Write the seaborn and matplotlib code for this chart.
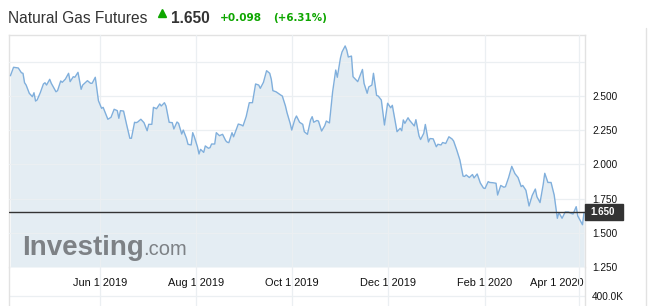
import pandas as pd
import matplotlib
matplotlib.use("Agg")
import matplotlib.pyplot as plt
import matplotlib.transforms as mtransforms
from matplotlib.patches import Rectangle
from matplotlib.lines import Line2D
import seaborn as sns

# ---------------- data ----------------
dates = [
    "2019-04-05", "2019-04-07", "2019-04-10", "2019-04-12", "2019-04-13", "2019-04-14", "2019-04-15",
    "2019-04-17", "2019-04-19", "2019-04-20", "2019-04-21", "2019-04-22", "2019-04-24", "2019-04-26",
    "2019-04-27", "2019-04-28", "2019-04-30",
    "2019-05-01", "2019-05-04", "2019-05-05", "2019-05-07", "2019-05-08", "2019-05-10", "2019-05-12",
    "2019-05-13", "2019-05-15", "2019-05-16", "2019-05-18", "2019-05-20", "2019-05-21", "2019-05-24",
    "2019-05-26", "2019-05-27", "2019-05-29", "2019-05-31",
    "2019-06-02", "2019-06-03", "2019-06-06", "2019-06-08", "2019-06-10", "2019-06-12", "2019-06-13",
    "2019-06-14", "2019-06-16", "2019-06-18", "2019-06-20", "2019-06-21", "2019-06-23", "2019-06-24",
    "2019-06-25", "2019-06-27", "2019-06-29",
    "2019-07-01", "2019-07-02", "2019-07-04", "2019-07-05", "2019-07-07", "2019-07-09", "2019-07-10",
    "2019-07-12", "2019-07-13", "2019-07-15", "2019-07-17", "2019-07-18", "2019-07-20", "2019-07-21",
    "2019-07-23", "2019-07-24", "2019-07-26", "2019-07-27", "2019-07-29", "2019-07-30", "2019-07-31",
    "2019-08-02", "2019-08-03", "2019-08-04", "2019-08-06", "2019-08-07", "2019-08-09", "2019-08-10",
    "2019-08-11", "2019-08-13", "2019-08-14", "2019-08-16", "2019-08-18", "2019-08-20", "2019-08-21",
    "2019-08-22", "2019-08-24", "2019-08-25", "2019-08-28", "2019-08-30", "2019-08-31",
    "2019-09-02", "2019-09-04", "2019-09-06", "2019-09-08", "2019-09-10", "2019-09-11", "2019-09-13",
    "2019-09-15", "2019-09-17", "2019-09-18", "2019-09-19", "2019-09-21", "2019-09-24", "2019-09-25",
    "2019-09-27", "2019-09-28", "2019-09-30",
    "2019-10-01", "2019-10-03", "2019-10-04", "2019-10-06", "2019-10-08", "2019-10-09", "2019-10-11",
    "2019-10-13", "2019-10-14", "2019-10-15", "2019-10-17", "2019-10-18", "2019-10-20", "2019-10-22",
    "2019-10-23", "2019-10-25", "2019-10-27", "2019-10-29", "2019-10-30",
    "2019-11-01", "2019-11-02", "2019-11-04", "2019-11-05", "2019-11-06", "2019-11-08", "2019-11-09",
    "2019-11-12", "2019-11-15", "2019-11-16", "2019-11-18", "2019-11-19", "2019-11-21", "2019-11-22",
    "2019-11-24", "2019-11-25", "2019-11-27", "2019-11-29",
    "2019-12-01", "2019-12-03", "2019-12-04", "2019-12-07", "2019-12-09", "2019-12-10", "2019-12-11",
    "2019-12-12", "2019-12-14", "2019-12-15", "2019-12-17", "2019-12-18", "2019-12-19", "2019-12-21",
    "2019-12-22", "2019-12-24", "2019-12-25", "2019-12-27", "2019-12-28", "2019-12-30",
    "2020-01-01", "2020-01-02", "2020-01-04", "2020-01-05", "2020-01-07", "2020-01-09", "2020-01-11",
    "2020-01-12", "2020-01-14", "2020-01-16", "2020-01-18", "2020-01-19", "2020-01-20", "2020-01-22",
    "2020-01-24", "2020-01-25", "2020-01-27", "2020-01-29", "2020-01-31",
    "2020-02-01", "2020-02-03", "2020-02-04", "2020-02-06", "2020-02-08", "2020-02-09", "2020-02-11",
    "2020-02-13", "2020-02-14", "2020-02-16", "2020-02-18", "2020-02-20", "2020-02-22", "2020-02-24",
    "2020-02-25", "2020-02-27", "2020-02-29",
    "2020-03-02", "2020-03-04", "2020-03-05", "2020-03-07", "2020-03-09", "2020-03-10", "2020-03-12",
    "2020-03-14", "2020-03-16", "2020-03-18", "2020-03-19", "2020-03-21", "2020-03-23", "2020-03-25",
    "2020-03-27", "2020-03-28", "2020-03-30", "2020-03-31",
    "2020-04-03", "2020-04-04",
]
prices = [
    2.648, 2.710, 2.705, 2.670, 2.666, 2.597, 2.580,
    2.520, 2.495, 2.524, 2.463, 2.471, 2.524, 2.588,
    2.597, 2.580, 2.622,
    2.593, 2.531, 2.539, 2.610, 2.600, 2.624, 2.666,
    2.605, 2.641, 2.637, 2.673, 2.549, 2.580, 2.612,
    2.593, 2.593, 2.637, 2.466,
    2.410, 2.417, 2.330, 2.344, 2.403, 2.393, 2.337,
    2.393, 2.390, 2.288, 2.191, 2.191, 2.308, 2.305,
    2.310, 2.330, 2.305,
    2.246, 2.293, 2.293, 2.417, 2.407, 2.442, 2.427,
    2.451, 2.427, 2.308, 2.305, 2.259, 2.310, 2.300,
    2.222, 2.251, 2.191, 2.147, 2.142, 2.232, 2.202,
    2.129, 2.076, 2.110, 2.088, 2.135, 2.118, 2.122,
    2.149, 2.149, 2.232, 2.210, 2.220, 2.173, 2.162,
    2.159, 2.232, 2.202, 2.295, 2.288, 2.281,
    2.349, 2.451, 2.451, 2.588, 2.580, 2.556, 2.600,
    2.685, 2.666, 2.622, 2.539, 2.531, 2.507, 2.500,
    2.427, 2.378, 2.300,
    2.251, 2.330, 2.354, 2.308, 2.293, 2.239, 2.220,
    2.325, 2.349, 2.308, 2.321, 2.317, 2.244, 2.283,
    2.317, 2.303, 2.529, 2.690, 2.637,
    2.778, 2.822, 2.866, 2.836, 2.785, 2.792, 2.641,
    2.605, 2.694, 2.593, 2.520, 2.566, 2.580, 2.666,
    2.504, 2.500, 2.471, 2.288,
    2.447, 2.414, 2.432, 2.239, 2.264, 2.246, 2.325,
    2.300, 2.341, 2.322, 2.295, 2.281, 2.327, 2.208,
    2.182, 2.227, 2.292, 2.164, 2.189, 2.187,
    2.129, 2.147, 2.142, 2.160, 2.153, 2.202, 2.186,
    2.171, 2.105, 2.032, 1.915, 1.912, 1.923, 1.904,
    1.926, 1.901, 1.930, 1.864, 1.827,
    1.824, 1.874, 1.868, 1.866, 1.862, 1.776, 1.846,
    1.833, 1.837, 1.904, 1.986, 1.933, 1.904, 1.838,
    1.846, 1.811, 1.696,
    1.773, 1.820, 1.764, 1.721, 1.853, 1.935, 1.868,
    1.868, 1.776, 1.606, 1.648, 1.606, 1.652, 1.652,
    1.641, 1.637, 1.691, 1.623,
    1.559, 1.650,
]

date_ticks = ["2019-06-01", "2019-08-01", "2019-10-01", "2019-12-01", "2020-02-01", "2020-04-01"]
date_tick_labels = ["Jun 1 2019", "Aug 1 2019", "Oct 1 2019", "Dec 1 2019", "Feb 1 2020", "Apr 1 2020"]
price_ticks = [1.25, 1.50, 1.75, 2.00, 2.25, 2.50, 2.75]
price_tick_labels = ["1.250", "1.500", "1.750", "2.000", "2.250", "2.500", ""]
volume_ticks = [400000]
volume_tick_labels = ["400.0K"]

title = "Natural Gas Futures"
last_price = 1.650
last_price_label = "1.650"
change_abs = "+0.098"
change_pct = "(+6.31%)"

# ---------------- style ----------------
LINE = "#80afdc"
FILL = "#e4edf3"
GRID = "#ebeff2"
BORDER = "#e2e2e2"
GREEN = "#0ea600"
DARK = "#333333"

W, H = 654, 306
sns.set_theme(style="white")
plt.rcParams["font.family"] = ["Liberation Sans", "DejaVu Sans"]

fig = plt.figure(figsize=(W / 100, H / 100), dpi=100)
fig.patch.set_facecolor("white")


def px_rect(x0, y0, x1, y1):
    return [x0 / W, 1 - y1 / H, (x1 - x0) / W, (y1 - y0) / H]


ax = fig.add_axes(px_rect(9, 35, 585, 267))
ax2 = fig.add_axes(px_rect(9, 267, 585, 306), sharex=ax)

df = pd.DataFrame({"date": pd.to_datetime(dates), "price": prices})

ymin, ymax = 1.25, 2.946
ax.fill_between(df["date"], df["price"], ymin, color=FILL, lw=0, zorder=1)
sns.lineplot(data=df, x="date", y="price", ax=ax, color=LINE, lw=1.0, zorder=4)

ax.set_xlim(pd.Timestamp("2019-06-01") - pd.Timedelta(days=57.9),
            pd.Timestamp("2020-04-01") + pd.Timedelta(days=3.6))
ax.set_ylim(ymin, ymax)
ax.set_xlabel("")
ax.set_ylabel("")
ax.set_axisbelow(False)

ax.set_yticks(price_ticks)
ax.set_yticklabels(price_tick_labels)
ax.yaxis.tick_right()
ax.tick_params(axis="y", length=0, pad=5, labelsize=7.2, labelcolor="#111111")

ax.set_xticks(pd.to_datetime(date_ticks))
ax.set_xticklabels(date_tick_labels)
ax.tick_params(axis="x", length=0, pad=8, labelsize=7.9, labelcolor="#111111")
last_lbl = ax.get_xticklabels()[-1]
last_lbl.set_ha("right")
last_lbl.set_transform(last_lbl.get_transform() +
                       mtransforms.ScaledTranslation(4 / 100, 0, fig.dpi_scale_trans))

ax.grid(True, color=GRID, lw=0.9, zorder=2)
for s in ["top", "left", "right"]:
    ax.spines[s].set_color(BORDER)
    ax.spines[s].set_linewidth(1.0)
ax.spines["bottom"].set_visible(False)
ax.set_facecolor("white")

# last price line and tag
ax.axhline(last_price, color=DARK, lw=1.0, zorder=5)
blend = mtransforms.blended_transform_factory(ax.transAxes, ax.transData)
unit = (ymax - ymin) / 232.0
ax.add_patch(Rectangle((1.0, last_price - 7.85 * unit), 37.7 / 576, 15.7 * unit,
                       transform=blend, clip_on=False, color=DARK, zorder=6))
ax.text(1.0 + 5 / 576, last_price, last_price_label, transform=blend, ha="left", va="center",
        color="white", fontsize=7, fontweight="bold", zorder=7, clip_on=False)

# volume panel (only its top strip visible)
ax2.set_facecolor("none")
ax2.set_ylim(0, 1.56e6)
ax2.set_yticks(volume_ticks)
ax2.set_yticklabels(volume_tick_labels)
ax2.yaxis.tick_right()
ax2.tick_params(axis="y", length=0, pad=5, labelsize=7.2, labelcolor="#111111")
ax2.tick_params(axis="x", length=0, labelbottom=False)
ax2.grid(True, color=GRID, lw=0.9)
for s in ["left", "right"]:
    ax2.spines[s].set_color(BORDER)
    ax2.spines[s].set_linewidth(1.0)
ax2.spines["top"].set_visible(False)
ax2.spines["bottom"].set_visible(False)

# outer right border
fig.add_artist(Line2D([645.5 / W, 645.5 / W], [1 - 28 / H, 0], color=BORDER, lw=1.0,
                      transform=fig.transFigure))

# header
fig.text(8.5 / W, 1 - 22.7 / H, title, fontsize=11.2, color=DARK, va="baseline")
fig.add_artist(Line2D([162 / W], [1 - 13.3 / H], marker="^", ms=5.5, color=GREEN, lw=0,
                      transform=fig.transFigure))
fig.text(170.5 / W, 1 - 22.7 / H, last_price_label, fontsize=11.2, fontweight="bold",
         color=DARK, va="baseline")
fig.text(220 / W, 1 - 21.3 / H, change_abs, fontsize=7.6, fontweight="bold", color=GREEN,
         va="baseline", family="DejaVu Sans")
fig.text(273.3 / W, 1 - 21.3 / H, change_pct, fontsize=7.4, fontweight="bold", color=GREEN,
         va="baseline", family="DejaVu Sans")

# watermark
fig.text(22.5 / W, 1 - 255 / H, "Investing", fontsize=20, fontweight="bold", color="#7d8185",
         va="baseline")
fig.text(143.5 / W, 1 - 255 / H, ".com", fontsize=14.5, color="#7d8185", va="baseline")

fig.savefig("out.png", dpi=100, facecolor="white")
